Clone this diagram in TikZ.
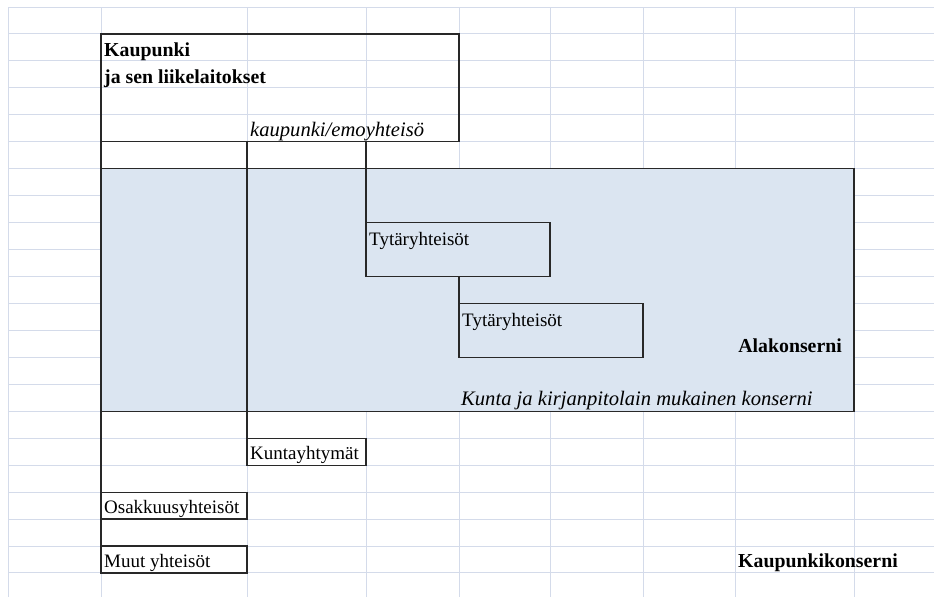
\documentclass[tikz,border=0pt]{standalone}
\usepackage{fontspec}
\setmainfont{Liberation Serif}
\definecolor{gridc}{RGB}{212,219,234}
\definecolor{bluec}{RGB}{219,229,241}
\definecolor{linec}{RGB}{40,40,40}
\begin{document}
\begin{tikzpicture}[x=1pt,y=-1pt,
  grid/.style={draw=gridc, line width=1pt},
  box/.style={draw=linec, line width=1.2pt, inner sep=0pt, outer sep=0pt, anchor=north west},
  conn/.style={draw=linec, line width=1.2pt},
  lbl/.style={inner sep=0pt, anchor=base west, font=\fontsize{19}{22}\selectfont, text=black},
  lblb/.style={lbl, font=\fontsize{19.8}{22}\selectfont\bfseries},
  lbli/.style={lbl, font=\fontsize{20.6}{22}\selectfont\itshape}]
\useasboundingbox (0,0) rectangle (934,597);
\fill[white] (0,0) rectangle (934,597);
% spreadsheet grid
\foreach \r in {0,...,21} \draw[grid] (8,7+26.95*\r) -- (934,7+26.95*\r);
\foreach \c in {8,101,247,366,459,550,643,735,854} \draw[grid] (\c,7) -- (\c,597);
% boxes
\node[box, minimum width=358pt, minimum height=107.8pt] (kaup) at (101,33.95) {};
\node[box, fill=bluec, minimum width=753pt, minimum height=242.55pt] (ala) at (101,168.7) {};
\node[box, fill=bluec, minimum width=184pt, minimum height=53.9pt] (tyt1) at (366,222.6) {};
\node[box, fill=bluec, minimum width=184pt, minimum height=53.9pt] (tyt2) at (459,303.45) {};
\node[box, fill=white, minimum width=119pt, minimum height=26.95pt] (kunta) at (247,438.2) {};
\node[box, fill=white, minimum width=146pt, minimum height=26.95pt] (osak) at (101,492.1) {};
\node[box, fill=white, minimum width=146pt, minimum height=26.95pt] (muut) at (101,546) {};
% connectors
\draw[conn] (kaup.south west) -- (muut.north west);
\draw[conn] (kunta.north west |- kaup.south) -- (kunta.north west);
\draw[conn] (tyt1.north west |- kaup.south) -- (tyt1.north west);
\draw[conn] (tyt2.north west |- tyt1.south) -- (tyt2.north west);
% labels
\node[lblb] (l1) at (104,56) {Kaupunki};
\node[lblb] (l2) at (104,83) {ja sen liikelaitokset};
\node[lbli] (l3) at (250,136) {kaupunki/emoyhteisö};
\node[lbl] (l4) at (369,245) {Tytäryhteisöt};
\node[lbl] (l5) at (462,326) {Tytäryhteisöt};
\node[lblb, anchor=base east] (l6) at (842,352) {Alakonserni};
\node[lbli] (l7) at (461,405.5) {Kunta ja kirjanpitolain mukainen konserni};
\node[lbl] (l8) at (250,459.5) {Kuntayhtymät};
\node[lbl] (l9) at (104,513) {Osakkuusyhteisöt};
\node[lbl] (l10) at (104,567) {Muut yhteisöt};
\node[lblb] (l11) at (738,567) {Kaupunkikonserni};
\end{tikzpicture}
\end{document}
